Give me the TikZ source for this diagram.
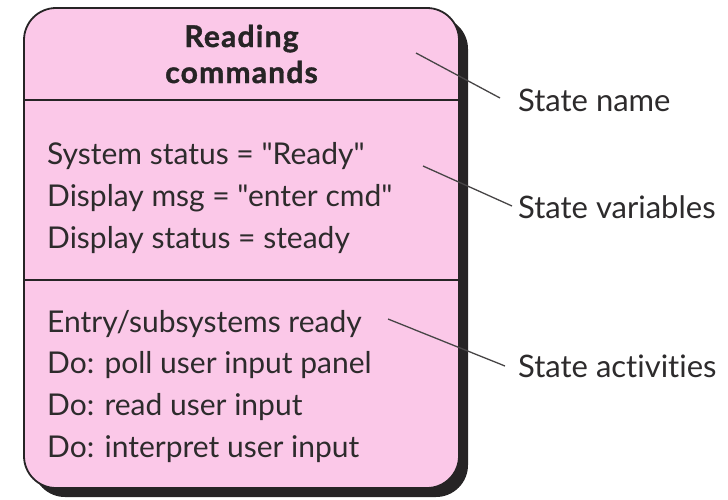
\documentclass[tikz,border=0pt]{standalone}
\usepackage{fontspec}
\newfontfamily\bodyfont[Ligatures=NoCommon]{Lato}
\newfontfamily\titlefont[LetterSpace=4,BoldFeatures={FakeBold=1.3}]{Lato}
\definecolor{statefill}{RGB}{251,200,232}
\definecolor{ink}{RGB}{38,36,37}
\definecolor{textgray}{RGB}{45,43,44}
\begin{document}
\begin{tikzpicture}[x=1pt,y=-1pt,
  body/.style={anchor=base west,inner sep=0pt,text=textgray,font=\bodyfont\fontsize{30}{36}\selectfont},
  titletext/.style={anchor=base,inner sep=0pt,text=ink,font=\titlefont\bfseries\fontsize{30}{36}\selectfont},
  tag/.style={anchor=base west,inner sep=0pt,text=textgray,font=\bodyfont\fontsize{31}{36}\selectfont},
  leader/.style={draw=ink!85,line width=1.3pt}]
\useasboundingbox (0,0) rectangle (728,499);

% drop shadow and the state box
\fill[ink,rounded corners=32pt] (33,17) rectangle (468,497);
\draw[fill=statefill,draw=ink,line width=1.8pt,rounded corners=32pt] (24,8) rectangle (459,488);
\draw[ink,line width=1.8pt] (24,100) -- (459,100);
\draw[ink,line width=1.8pt] (24,280) -- (459,280);

% state name
\node[titletext] (t1) at (241.5,47) {Reading};
\node[titletext] (t2) at (241.5,83) {commands};

% state variables
\node[body] (v1) at (47,164) {System status = "Ready"};
\node[body] (v2) at (47,206) {Display msg = "enter cmd"};
\node[body] (v3) at (47,248) {Display status = steady};

% state activities
\node[body] (a1) at (47,332) {Entry/subsystems ready};
\node[body] (a2) at (47,373) {Do: poll user input panel};
\node[body] (a3) at (47,415) {Do: read user input};
\node[body] (a4) at (47,457) {Do: interpret user input};

% annotations
\node[tag] (lname) at (518,111) {State name};
\node[tag] (lvars) at (518,218) {State variables};
\node[tag] (lacts) at (518,377) {State activities};

\coordinate (pname) at (416,53);
\coordinate (ename) at (500,98);
\coordinate (pvars) at (423,166);
\coordinate (evars) at (512,206);
\coordinate (pacts) at (388,319);
\coordinate (eacts) at (505,366);
\draw[leader] (pname) -- (ename);
\draw[leader] (pvars) -- (evars);
\draw[leader] (pacts) -- (eacts);
\end{tikzpicture}
\end{document}
